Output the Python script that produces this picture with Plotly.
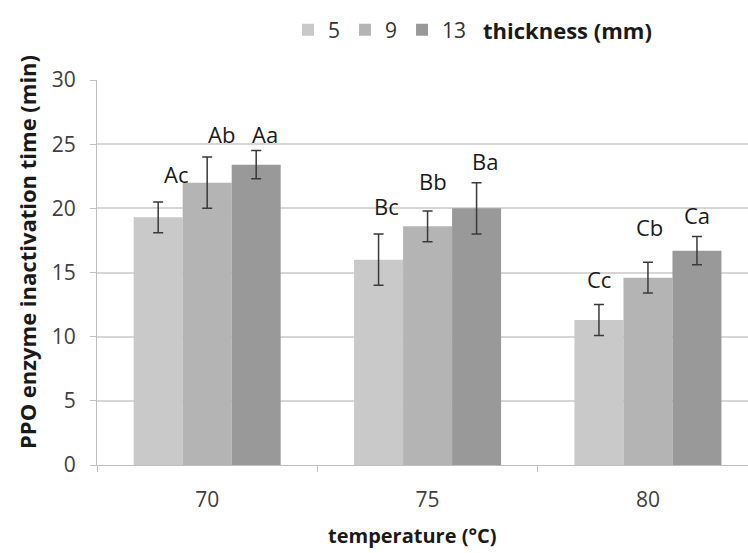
import plotly.graph_objects as go

temperatures = ["70", "75", "80"]
thickness_labels = ["5", "9", "13"]
values = {
    "5": [19.3, 16.0, 11.3],
    "9": [22.0, 18.6, 14.6],
    "13": [23.4, 20.0, 16.7],
}
errors = {
    "5": [1.2, 2.0, 1.2],
    "9": [2.0, 1.2, 1.2],
    "13": [1.1, 2.0, 1.1],
}
letters = {
    "5": ["Ac", "Bc", "Cc"],
    "9": ["Ab", "Bb", "Cb"],
    "13": ["Aa", "Ba", "Ca"],
}

# styling
colors = {"5": "#c9c9c9", "9": "#b4b4b4", "13": "#999999"}
# pixel nudges for the significance letters (dx, gap above error cap)
nudges = {
    "Ac": (18, 17), "Ab": (14, 12), "Aa": (9, 6),
    "Bc": (8, 17), "Bb": (5, 19), "Ba": (8, 11),
    "Cc": (0, 15), "Cb": (2, 24), "Ca": (0, 11),
}

FONT = "'Open Sans', sans-serif"
BARGAP = 0.333

fig = go.Figure()
for t in thickness_labels:
    fig.add_trace(go.Bar(
        x=temperatures, y=values[t], name=t,
        marker=dict(color=colors[t], line=dict(width=0)),
        error_y=dict(type="data", array=errors[t], color="#3a3a3a", thickness=1.5, width=5),
    ))

bar_w = (1 - BARGAP) / 3
for i, t in enumerate(thickness_labels):
    off = (i - 1) * bar_w
    for j, cat in enumerate(temperatures):
        lab = letters[t][j]
        dx, gap = nudges[lab]
        fig.add_annotation(
            x=j + off, y=values[t][j] + errors[t][j], xref="x", yref="y",
            text=lab, showarrow=False, yanchor="bottom",
            xshift=dx, yshift=gap - 6,
            font=dict(family=FONT, size=22, color="#1a1a1a"),
        )

PLOT_L, PLOT_W, PLOT_B, PLOT_H = 97, 651, 465, 385
def px_x(p):
    return (p - PLOT_L) / PLOT_W
def px_y(p):
    return (PLOT_B - p) / PLOT_H

fig.add_annotation(
    x=px_x(481), y=px_y(30), xref="paper", yref="paper", text="<b>thickness (mm)</b>",
    showarrow=False, xanchor="left", yanchor="middle",
    font=dict(family=FONT, size=22, color="#1a1a1a"),
)
fig.add_annotation(
    x=px_x(27), y=px_y(252), xref="paper", yref="paper",
    text="<b>PPO enzyme inactivation time (min)</b>", textangle=-90,
    showarrow=False, xanchor="center", yanchor="middle",
    font=dict(family=FONT, size=22, color="#1a1a1a"),
)
fig.add_annotation(
    x=px_x(412), y=px_y(535), xref="paper", yref="paper",
    text="<b>temperature (°C)</b>",
    showarrow=False, xanchor="center", yanchor="middle",
    font=dict(family=FONT, size=20, color="#1a1a1a"),
)

fig.update_layout(
    width=748, height=553,
    margin=dict(l=PLOT_L, r=0, t=80, b=88),
    paper_bgcolor="white", plot_bgcolor="white",
    barmode="group", bargap=BARGAP, bargroupgap=0,
    showlegend=True,
    legend=dict(orientation="h", x=px_x(288), y=px_y(30), xanchor="left", yanchor="middle",
                font=dict(family=FONT, size=21, color="#333333"),
                itemwidth=30, traceorder="normal", tracegroupgap=0),
    font=dict(family=FONT, color="#404040"),
    xaxis=dict(
        type="category", range=[-0.5, 2.454],
        showline=True, linecolor="#bfbfbf", linewidth=1,
        ticks="outside", tickson="boundaries", ticklen=6, tickcolor="#bfbfbf",
        tickfont=dict(family=FONT, size=21, color="#404040"),
        ticklabelstandoff=16,
        showgrid=False,
    ),
    yaxis=dict(
        range=[0, 30], dtick=5, tick0=0,
        showline=True, linecolor="#bfbfbf", linewidth=1,
        ticks="outside", ticklen=6, tickcolor="#bfbfbf",
        tickfont=dict(family=FONT, size=21, color="#404040"),
        ticklabelstandoff=10,
        showgrid=True, gridcolor="#d6d6d6", gridwidth=1.5,
        zeroline=False,
    ),
)
fig.write_html("out.html")
